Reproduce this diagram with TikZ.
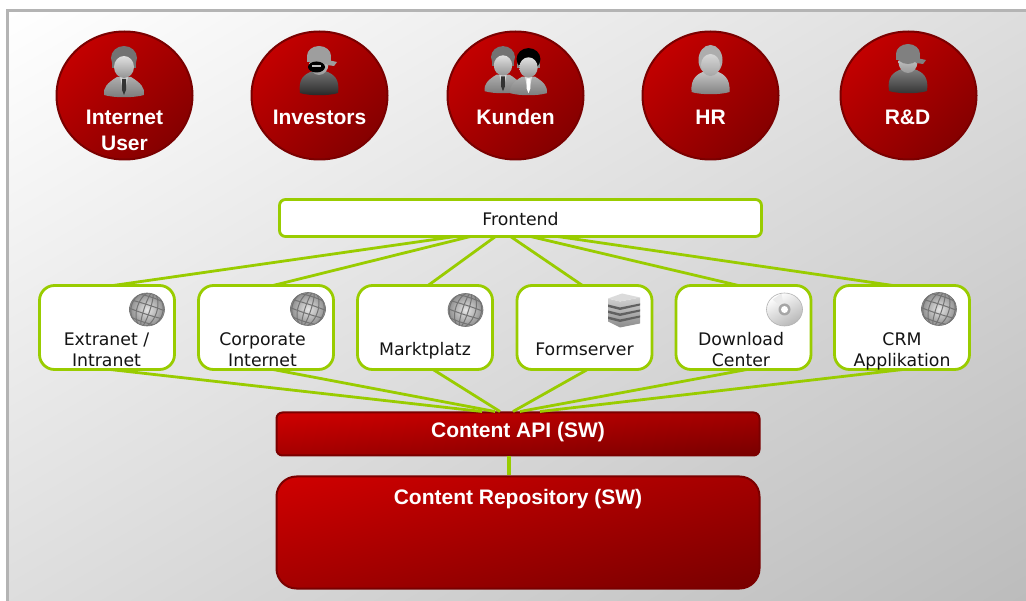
\documentclass[tikz,border=0pt]{standalone}
\usepackage{fontspec}
\setmainfont{Liberation Sans}
\newfontfamily\boxfont{DejaVu Sans}
\usetikzlibrary{calc}
\definecolor{lime}{HTML}{99CC00}
\definecolor{redA}{HTML}{D00000}
\definecolor{redB}{HTML}{780000}
\definecolor{redL}{HTML}{7A0000}
\definecolor{frameC}{HTML}{B4B4B4}
\definecolor{bgEnd}{HTML}{BCBCBC}
% corner-to-corner gradient over a box given by centre and size; a clip must be active
\newcommand\diagfill[6]{%
  \pgfmathsetmacro\gradang{atan(#4/#3)}%
  \pgfmathsetmacro\gradk{sqrt(1+(#4/#3)*(#4/#3))}%
  \pgfmathsetmacro\gradl{#4/\gradk}%
  \pgfmathsetmacro\gradd{#3*\gradk}%
  \begin{scope}[transform canvas={shift={(#1,#2)},rotate=\gradang}]
    \shade[top color=#5,bottom color=#6] (-\gradd pt,-\gradl pt) rectangle (\gradd pt,\gradl pt);
  \end{scope}%
}
\tikzset{
  x=1pt,y=-1pt,
  redline/.style={draw=redL,line width=2pt,inner sep=0pt,outer sep=1pt,rectangle},
  whitebox/.style={draw=lime,line width=2.8pt,fill=white,inner sep=0pt,outer sep=0pt,rectangle},
  frontbox/.style={whitebox,rounded corners=6pt,minimum width=482pt,minimum height=37pt},
  appbox/.style={whitebox,rounded corners=15pt,minimum width=135pt,minimum height=84pt},
  link/.style={draw=lime,line width=2.8pt},
  actortext/.style={text=white,font=\bfseries\fontsize{21}{26}\selectfont,align=center,inner sep=0pt},
  boxtext/.style={text=black!92,font=\boxfont\fontsize{17.3}{21}\selectfont,align=center,inner sep=0pt},
  pics/globe/.style={code={
    \begin{scope}
      \clip (0,0) ellipse [x radius=17.5pt,y radius=16.5pt];
      \shade[inner color=white!90!black,outer color=black!45] (-18,-17) rectangle (18,17);
      \begin{scope}[rotate=-18]
        \foreach \r in {3,10,16}{
          \draw[black!55,line width=1pt] (0,0) ellipse [x radius=\r pt,y radius=18pt];}
        \foreach \h in {-11,-4,4,11}{
          \draw[black!55,line width=1pt] (-19,\h) .. controls (-8,{\h*1.25}) and (8,{\h*1.25}) .. (19,\h);}
      \end{scope}
    \end{scope}
    \draw[black!55,line width=.6pt] (0,0) ellipse [x radius=17.5pt,y radius=16.5pt];
  }},
  pics/disc/.style={code={
    \shade[left color=white,right color=black!28,shading angle=30] (0,0) ellipse [x radius=18pt,y radius=16.5pt];
    \fill[white!92!black] (-12,-10) -- (0,0) -- (-3,-16) -- cycle;
    \draw[black!30,line width=.6pt] (0,0) ellipse [x radius=18pt,y radius=16.5pt];
    \fill[black!35] (0,0) circle [radius=6pt];
    \fill[white] (0,0) circle [radius=3.5pt];
  }},
  pics/server/.style={code={
    \shade[top color=black!18,bottom color=black!45] (-16,-12) -- (-4,-9) -- (16,-13) -- (16,13) -- (-4,17) -- (-16,11) -- cycle;
    \fill[black!14] (-16,-12) -- (-2,-17) -- (16,-13) -- (-4,-9) -- cycle;
    \foreach \h in {-5,1,7}{
      \fill[black!62] (-16,\h-1) -- (-4,\h+2) -- (16,\h-2) -- (16,\h) -- (-4,\h+4.5) -- (-16,\h+1.5) -- cycle;}
  }},
  pics/suit/.style n args={3}{code={
    \shade[top color=black!32,bottom color=black!52] (-20,29) .. controls (-21,22) and (-17,17) .. (-7,11) -- (7,11) .. controls (17,17) and (21,22) .. (20,29) .. controls (10,32) and (-10,32) .. cycle;
    \fill[black!16] (-4,11) -- (4,11) -- (1,24) -- (-1,24) -- cycle;
    \fill[#2] (-2,13) -- (2,13) -- (2,24) -- (0,29) -- (-2,24) -- cycle;
    \fill[#3] (-12,-6) rectangle (12,2);
    \fill[#1] (0,-8) ellipse [x radius=13pt,y radius=12pt];
    \shade[top color=black!12,bottom color=black!42] (0,1) ellipse [x radius=10pt,y radius=11pt];
  }},
  pics/capman/.style n args={3}{code={
    \shade[top color=#1,bottom color=#2] (-19,29) .. controls (-21,15) and (-15,10) .. (-6,7) -- (6,7) .. controls (15,10) and (21,15) .. (19,29) .. controls (10,32) and (-10,32) .. cycle;
    \shade[top color=black!15,bottom color=black!40] (0,0) ellipse [x radius=9.5pt,y radius=11pt];
    \fill[#3] (0,-8) ellipse [x radius=12pt,y radius=10pt];
    \fill[#3] (-12,-8) rectangle (12,-2);
    \fill[#3] (4,-5) -- (18,-2) -- (15,2) -- (8,1) -- cycle;
  }},
  pics/hrface/.style={code={
    \shade[top color=black!22,bottom color=black!50] (-19,26) .. controls (-20,12) and (-13,8) .. (-6,5) -- (6,5) .. controls (13,8) and (20,12) .. (19,26) .. controls (10,29) and (-10,29) .. cycle;
    \fill[black!32] (0,-6) ellipse [x radius=12pt,y radius=15pt];
    \shade[top color=black!16,bottom color=black!35] (0,-1) ellipse [x radius=9.5pt,y radius=11pt];
  }},
}
\begin{document}
\begin{tikzpicture}
\useasboundingbox (0,0) rectangle (1026,601);
\fill[white] (0,0) rectangle (1026,601);
\begin{scope}
  \clip (7,11) rectangle (1026,601);
  \diagfill{516.5}{306}{1019}{590}{white}{bgEnd}
\end{scope}
\draw[frameC,line width=3pt] (7.5,601) -- (7.5,11) -- (1026,11);

% actors
\foreach \cx in {124.5,319.5,515.5,710.5,908.5}{
  \begin{scope}
    \clip (\cx,95.5) ellipse [x radius=68pt,y radius=64pt];
    \diagfill{\cx}{95.5}{137}{129}{redA}{redB}
  \end{scope}
  \draw[redline] (\cx,95.5) ellipse [x radius=68pt,y radius=64pt];
}
\pic at (124,66) {suit={black!55}{black!80}{black!55}};
\pic at (319,64) {capman={black!55}{black!85}{black!38}};
\fill[black] (316.5,67) ellipse [x radius=8.5pt,y radius=5.5pt];
\fill[black!25] (312,65) rectangle (321,67);
\pic[scale=.92] at (503,64.5) {suit={black!55}{black!80}{black!55}};
\pic[scale=.92] at (528.5,66.5) {suit={black}{white}{black!45}};
\pic at (710.5,66) {hrface};
\pic at (908,62) {capman={black!50}{black!80}{black!50}};

\node[actortext] (t1) at (124.5,130.5) {Internet\\User};
\node[actortext,anchor=base] (t2) at (319.5,124.5) {Investors};
\node[actortext,anchor=base] (t3) at (515.5,124.5) {Kunden};
\node[actortext,anchor=base] (t4) at (710.5,124.5) {HR};
\node[actortext,anchor=base] (t5) at (907.5,124.5) {R\&D};

% boxes
\node[frontbox] (front) at (520.5,218) {};
\node[boxtext,anchor=base] (frontlabel) at (520.5,225.5) {Frontend};
\node[appbox] (b1) at (107,327.5) {};
\node[appbox] (b2) at (266,327.5) {};
\node[appbox] (b3) at (425,327.5) {};
\node[appbox] (b4) at (584.5,327.5) {};
\node[appbox] (b5) at (743.5,327.5) {};
\node[appbox] (b6) at (902,327.5) {};

\pic at (147,309.5) {globe};
\pic at (308,309) {globe};
\pic at (465.5,310) {globe};
\pic at (624,310.5) {server};
\pic at (784.5,309.5) {disc};
\pic at (939,309) {globe};

\node[boxtext] (l1) at (106.5,352.3) {\strut Extranet /\\\strut Intranet};
\node[boxtext] (l2) at (262.5,352.3) {\strut Corporate\\\strut Internet};
\node[boxtext,anchor=base] (l3) at (425,356) {Marktplatz};
\node[boxtext,anchor=base] (l4) at (584.5,356) {Formserver};
\node[boxtext] (l5) at (741,352.3) {\strut Download\\\strut Center};
\node[boxtext] (l6) at (902,352.3) {\strut CRM\\\strut Applikation};

% core boxes
\begin{scope}
  \clip[rounded corners=6pt] (276.5,412.5) rectangle (759.5,455.5);
  \diagfill{518}{434}{483}{43}{redA}{redB}
\end{scope}
\begin{scope}
  \clip[rounded corners=20pt] (276.5,476.5) rectangle (759.5,588.5);
  \diagfill{518}{532.5}{483}{112}{redA}{redB}
\end{scope}
\node[redline,rounded corners=6pt,minimum width=483pt,minimum height=43pt] (api) at (518,434) {};
\node[redline,rounded corners=20pt,minimum width=483pt,minimum height=112pt] (repo) at (518,532.5) {};
\node[actortext,anchor=base] (apilabel) at (518,437.5) {Content API (SW)};
\node[actortext,anchor=base] (repolabel) at (518,504.5) {Content Repository (SW)};

% connectors
\foreach \b/\ft/\fb in {b1/{-65}/6,b2/{-50}/7,b3/{-25}/3,b4/{-10}/{-2},b5/{10}/{-5},b6/{37}/{-9}}{
  \draw[link] ($(front.south)+(\ft,0)$) -- ($(\b.north)+(\fb,0)$);
}
\foreach \b/\ft/\fb in {b1/{3}/{-36},b2/{7}/{-23},b3/{8}/{-18},b4/{3}/{-5},b5/{3.5}/{2},b6/{1}/{22}}{
  \draw[link] ($(\b.south)+(\ft,0)$) -- ($(api.north)+(\fb,0)$);
}
\draw[link,line width=3.2pt] ($(api.south)+(-9,0)$) -- ($(repo.north)+(-9,0)$);
\end{tikzpicture}
\end{document}
